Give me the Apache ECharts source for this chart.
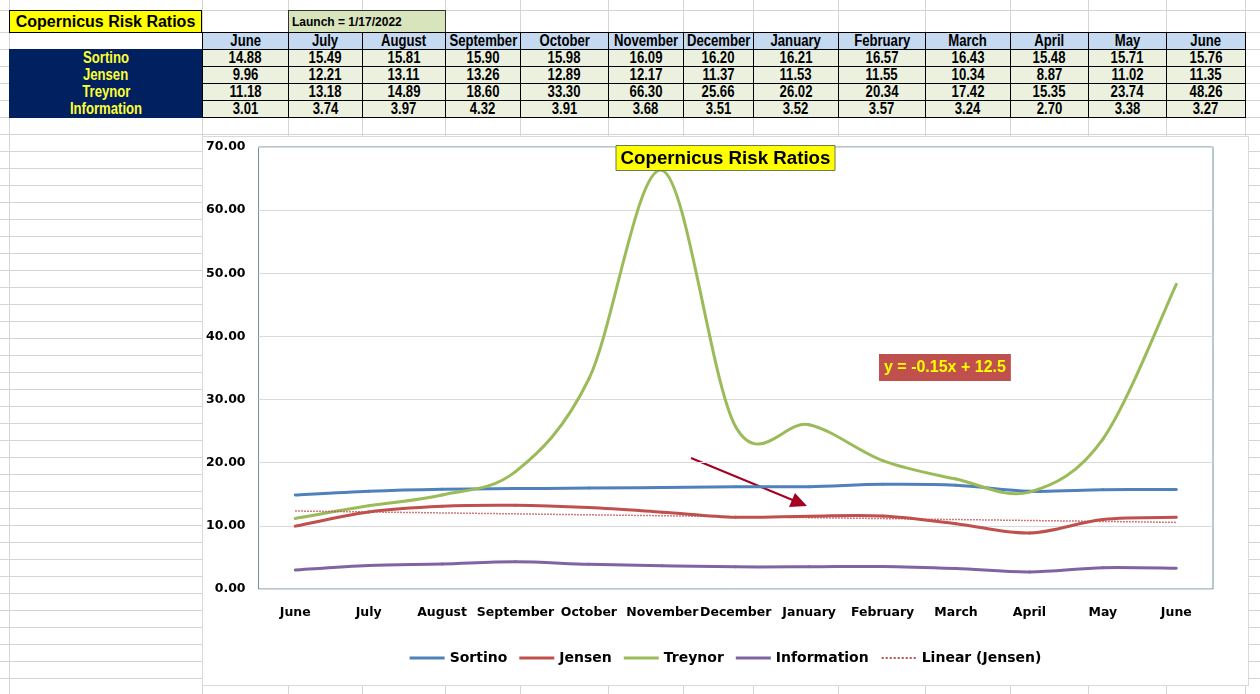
<!DOCTYPE html>
<html>
<head>
<meta charset="utf-8">
<title>Copernicus Risk Ratios</title>
<script src="https://cdn.jsdelivr.net/npm/echarts@6.0.0/dist/echarts.min.js"></script>
<style>
* { margin: 0; padding: 0; }
body {
	width: 1260px; height: 694px; overflow: hidden; position: relative; background: #fff;
	font-family: 'Liberation Sans', Arial, sans-serif;
}
.gl { position: absolute; background: #d4d4d4; }
.cell {
	position: absolute; box-sizing: border-box; display: flex; align-items: center;
	justify-content: center; font-weight: bold; font-size: 16px; color: #000; white-space: nowrap;
}
.cell span.narrow { display: inline-block; transform: scaleX(0.82); }
#chartBox {
	position: absolute; left: 202px; top: 136px; width: 1047px; height: 550px;
	border: 1px solid #d9d9d9; box-sizing: border-box; background: #fff;
}
#main { width: 1045px; height: 548px; }
</style>
</head>
<body>
<div id="sheet"></div>
<div id="chartBox"><div id="main"></div></div>
<script>
// data read from the sheet
var months = ['June', 'July', 'August', 'September', 'October', 'November', 'December',
	'January', 'February', 'March', 'April', 'May', 'June'];
var sortino = [14.88, 15.49, 15.81, 15.90, 15.98, 16.09, 16.20, 16.21, 16.57, 16.43, 15.48, 15.71, 15.76];
var jensen = [9.96, 12.21, 13.11, 13.26, 12.89, 12.17, 11.37, 11.53, 11.55, 10.34, 8.87, 11.02, 11.35];
var treynor = [11.18, 13.18, 14.89, 18.60, 33.30, 66.30, 25.66, 26.02, 20.34, 17.42, 15.35, 23.74, 48.26];
var information = [3.01, 3.74, 3.97, 4.32, 3.91, 3.68, 3.51, 3.52, 3.57, 3.24, 2.70, 3.38, 3.27];
// trendline ends (first / last month) as drawn
var jensenTrend = [12.35, 10.55];
var trendLabel = 'y = -0.15x + 12.5';
var sheetTitle = 'Copernicus Risk Ratios';
var launchText = 'Launch = 1/17/2022';
var rowNames = ['Sortino', 'Jensen', 'Treynor', 'Information'];

// ---- spreadsheet background ----
var sheet = document.getElementById('sheet');
var colEdges = [9, 202, 288, 362, 445, 520, 608, 683, 753, 838, 925, 1010, 1088, 1166, 1245];
var rowEdges = [10, 32, 49, 66, 83, 100];
for (var y = 117; y < 694; y += 17) rowEdges.push(y);

function addDiv(cls, css) {
	var d = document.createElement('div');
	d.className = cls;
	d.style.cssText = css;
	sheet.appendChild(d);
	return d;
}
colEdges.forEach(function (x) { addDiv('gl', 'left:' + x + 'px;top:0;width:1px;height:694px;'); });
rowEdges.forEach(function (y) { addDiv('gl', 'left:0;top:' + y + 'px;width:1260px;height:1px;'); });

function cell(x0, x1, y0, y1, css, text, narrow) {
	var d = addDiv('cell', 'left:' + x0 + 'px;top:' + y0 + 'px;width:' + (x1 - x0 + 1) + 'px;height:' +
		(y1 - y0 + 1) + 'px;' + css);
	if (text) {
		var s = document.createElement('span');
		if (narrow) s.className = 'narrow';
		s.textContent = text;
		d.appendChild(s);
	}
	return d;
}
cell(9, 201, 10, 32, 'background:#ffff00;border:1px solid #000;font-size:16px;', sheetTitle, false);
cell(288, 445, 10, 32, 'background:#d8e4bc;border:1px solid #333;justify-content:flex-start;padding-left:3px;font-size:12px;', launchText, false);
cell(9, 202, 49, 117, 'background:#002060;', '', false);
var rows = [sortino, jensen, treynor, information];
for (var c = 0; c < months.length; c++) {
	var x0 = colEdges[c + 1], x1 = colEdges[c + 2];
	cell(x0, x1, 32, 49, 'background:#c5d9f1;border:1px solid #000;', months[c], true);
	for (var r = 0; r < rows.length; r++) {
		cell(x0, x1, 49 + 17 * r, 66 + 17 * r, 'background:#ebf1de;border:1px solid #000;', rows[r][c].toFixed(2), true);
	}
}
rowNames.forEach(function (n, r) {
	cell(9, 202, 49 + 17 * r, 66 + 17 * r, 'color:#ffff33;', n, true);
});

// ---- chart ----
var myChart = echarts.init(document.getElementById('main'));
var axisFont = { fontFamily: 'DejaVu Sans', fontWeight: 'bold', fontSize: 12.5, color: '#000' };

// Excel style smoothed line: one bezier segment per point, control points from neighbours
function smoothSeries(name, values, color) {
	var last = values.length - 1;
	return {
		name: name,
		type: 'custom',
		data: values.map(function (v, i) { return [i, v]; }),
		encode: { x: 0, y: 1 },
		itemStyle: { color: color },
		renderItem: function (params, api) {
			var i = params.dataIndex;
			if (i >= last) return null;
			var pt = function (k) {
				k = Math.max(0, Math.min(last, k));
				return api.coord([k, values[k]]);
			};
			var p0 = pt(i - 1), p1 = pt(i), p2 = pt(i + 1), p3 = pt(i + 2);
			return {
				type: 'bezierCurve',
				shape: {
					x1: p1[0], y1: p1[1], x2: p2[0], y2: p2[1],
					cpx1: p1[0] + (p2[0] - p0[0]) / 6, cpy1: p1[1] + (p2[1] - p0[1]) / 6,
					cpx2: p2[0] - (p3[0] - p1[0]) / 6, cpy2: p2[1] - (p3[1] - p1[1]) / 6
				},
				style: { stroke: color, lineWidth: 3, fill: null, lineCap: 'round' }
			};
		}
	};
}

var option = {
	animation: false,
	backgroundColor: '#fff',
	title: {
		text: sheetTitle,
		left: 'center',
		top: 8,
		padding: [4, 5, 3, 5],
		backgroundColor: '#ffff00',
		borderColor: '#6b7a4f',
		borderWidth: 1,
		textStyle: { fontFamily: 'Liberation Sans', fontWeight: 'bold', fontSize: 18.7, color: '#000' }
	},
	legend: {
		top: 509,
		left: 'center',
		itemWidth: 35,
		itemHeight: 3,
		itemGap: 12,
		itemStyle: { opacity: 0 },
		textStyle: { fontFamily: 'DejaVu Sans', fontWeight: 'bold', fontSize: 14, color: '#000' },
		data: [
			{ name: 'Sortino', icon: 'rect', itemStyle: { opacity: 1 } },
			{ name: 'Jensen', icon: 'rect', itemStyle: { opacity: 1 } },
			{ name: 'Treynor', icon: 'rect', itemStyle: { opacity: 1 } },
			{ name: 'Information', icon: 'rect', itemStyle: { opacity: 1 } },
			{ name: 'Linear (Jensen)' }
		]
	},
	grid: {
		left: 54, right: 35, top: 10, bottom: 96,
		show: true, borderColor: '#6d8fa0', borderWidth: 1
	},
	xAxis: {
		type: 'category',
		data: months,
		boundaryGap: true,
		axisLine: { show: false },
		axisTick: { show: false },
		axisLabel: Object.assign({ interval: 0, margin: 17, hideOverlap: false }, axisFont)
	},
	yAxis: {
		type: 'value',
		min: 0, max: 70, interval: 10,
		axisLine: { show: false },
		axisTick: { show: false },
		splitLine: { lineStyle: { color: '#d9d9d9' } },
		axisLabel: Object.assign({ margin: 13, formatter: function (v) { return v.toFixed(2); } }, axisFont)
	},
	series: [
		smoothSeries('Sortino', sortino, '#4f81bd'),
		smoothSeries('Jensen', jensen, '#c0504d'),
		smoothSeries('Treynor', treynor, '#9bbb59'),
		smoothSeries('Information', information, '#8064a2'),
		{ name: 'Linear (Jensen)', type: 'line', symbol: 'none',
			data: [[0, jensenTrend[0]], [months.length - 1, jensenTrend[1]]],
			lineStyle: { width: 1.5, color: '#c0504d', type: 'dotted' }, itemStyle: { color: '#c0504d' } }
	],
	graphic: [
		{
			type: 'text', left: 676, top: 217, z: 100,
			style: {
				text: trendLabel, fill: '#ffff00', font: 'bold 16px "Liberation Sans"',
				backgroundColor: '#c0504d', padding: [6, 5, 5, 5]
			}
		},
		{
			type: 'group', z: 100,
			children: [
				{ type: 'line', shape: { x1: 488, y1: 321, x2: 592, y2: 364 },
					style: { stroke: '#a50021', lineWidth: 2 } },
				{ type: 'polygon', shape: { points: [[604, 369], [586, 370], [592, 356]] },
					style: { fill: '#a50021' } }
			]
		}
	]
};
myChart.setOption(option);
</script>
</body>
</html>
